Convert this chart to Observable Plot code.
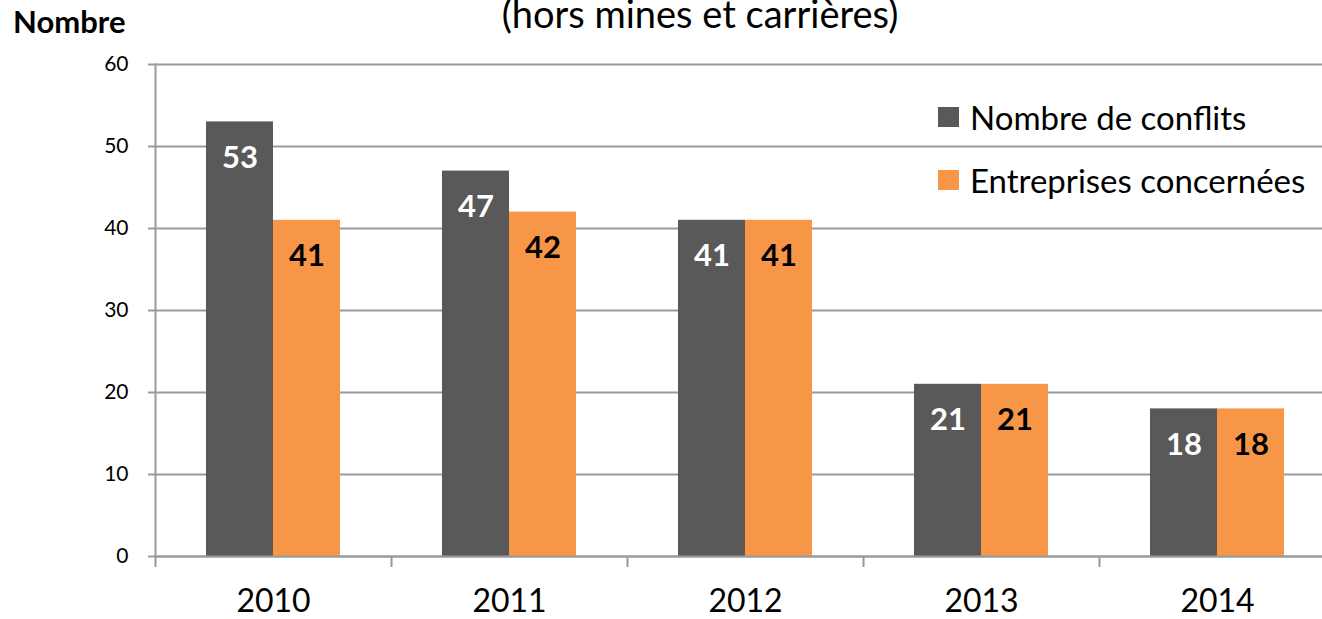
<!DOCTYPE html>
<html><head><meta charset="utf-8">
<script src="https://cdn.jsdelivr.net/npm/d3@7"></script>
<script src="https://cdn.jsdelivr.net/npm/@observablehq/plot@0.6"></script>
<style>
body{margin:0;background:#fff;font-family:Lato,sans-serif}
#wrap{position:relative;width:1322px;height:619px;overflow:hidden}
#chart{position:absolute;left:0;top:0}
#title{position:absolute;left:0;width:1400px;text-align:center;top:-5.7px;font-size:38px;line-height:38px;color:#000;white-space:nowrap}
#ylabel{position:absolute;left:13px;top:5.5px;font-size:31px;line-height:31px;font-weight:bold;color:#000}
.leg{position:absolute;left:938px;font-size:33px;line-height:33px;color:#000;white-space:nowrap;display:flex;align-items:center}
.leg span.sw{display:inline-block;width:21px;height:20px;margin-right:11px}
</style></head><body>
<div id="wrap">
<div id="chart"></div>
<div id="title">(hors mines et carrières)</div>
<div id="ylabel">Nombre</div>
<div id="legend"></div>
</div>
<script>
const years = ["2010","2011","2012","2013","2014"];
const conflits = [53,47,41,21,18];
const entreprises = [41,42,41,21,18];
const yTicks = [0,10,20,30,40,50,60];
const seriesNames = ["Nombre de conflits","Entreprises concernées"];
const colors = ["#595959","#F79646"];
const labelColors = ["#ffffff","#000000"];

const d1 = years.map((y,i)=>({year:y, series:seriesNames[0], value:conflits[i]}));
const d2 = years.map((y,i)=>({year:y, series:seriesNames[1], value:entreprises[i]}));

const half = 67;
const step = 236;

const chart = Plot.plot({
  width:1322, height:619,
  marginTop:64, marginBottom:63, marginLeft:155, marginRight:0,
  style:{fontFamily:"Lato, sans-serif", background:"transparent", overflow:"visible"},
  x:{domain:years, range:[155,1335], paddingInner:0.432, paddingOuter:0.216, label:null},
  y:{domain:[0,60], ticks:yTicks, label:null},
  marks:[
    Plot.gridY(yTicks, {stroke:"#9a9a9a", strokeWidth:2, strokeOpacity:1}),
    Plot.barY(d1, {x:"year", y:"value", fill:colors[0], insetRight:half, insetLeft:0}),
    Plot.barY(d2, {x:"year", y:"value", fill:colors[1], insetLeft:half, insetRight:0}),
    Plot.text(d1, {x:"year", y:"value", text:d=>String(d.value), dx:-half/2, dy:36, fill:labelColors[0], fontWeight:"bold", fontSize:31}),
    Plot.text(d2, {x:"year", y:"value", text:d=>String(d.value), dx:half/2, dy:36, fill:labelColors[1], fontWeight:"bold", fontSize:31}),
    Plot.ruleY([0], {stroke:"#9a9a9a", strokeWidth:2}),
    Plot.frame({anchor:"left", stroke:"#9a9a9a", strokeWidth:2}),
    Plot.axisY({ticks:yTicks, tickSize:7, tickPadding:20, stroke:"#9a9a9a", strokeWidth:2, fill:"#000", fontSize:21, label:null}),
    Plot.axisX({tickSize:11, dx:-step/2, tickFormat:()=>"", stroke:"#9a9a9a", strokeWidth:2, label:null}),
    Plot.axisX({tickSize:0, tickPadding:33, fill:"#000", fontSize:32, label:null})
  ]
});
document.getElementById("chart").appendChild(chart);

const legend = document.getElementById("legend");
const legTops = [100.5, 163.5];
seriesNames.forEach((name,i)=>{
  const row = document.createElement("div");
  row.className = "leg";
  row.style.top = legTops[i] + "px";
  const sw = document.createElement("span");
  sw.className = "sw";
  sw.style.background = colors[i];
  row.appendChild(sw);
  row.appendChild(document.createTextNode(name));
  legend.appendChild(row);
});
</script>
</body></html>
